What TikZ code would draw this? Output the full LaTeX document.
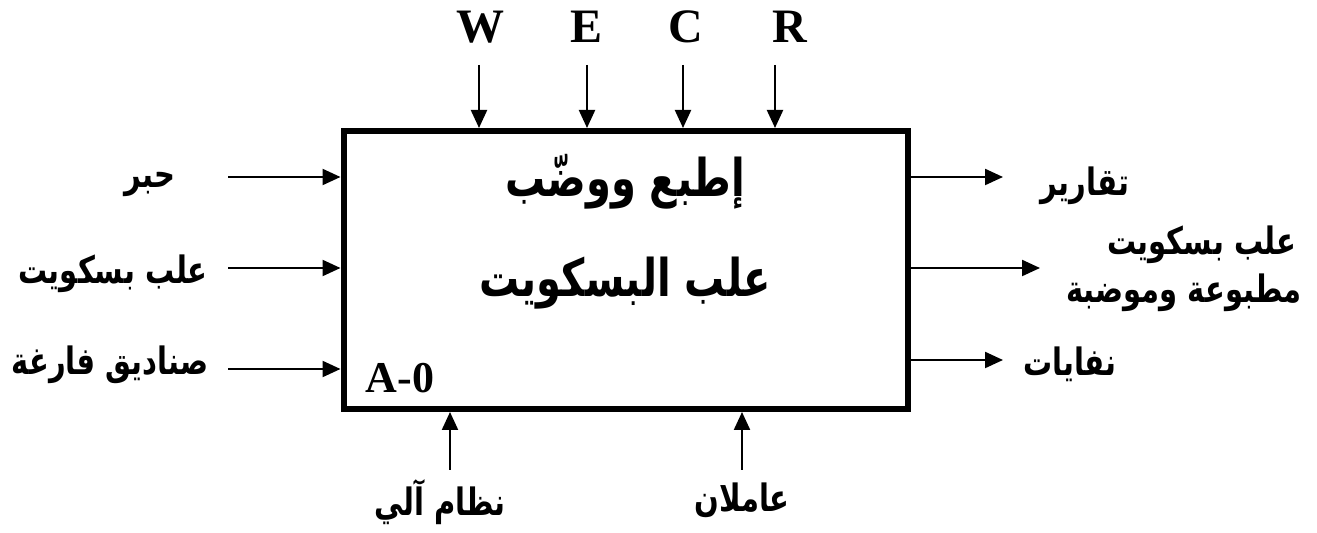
\documentclass[tikz,border=0pt]{standalone}
\usepackage{fontspec}
\setmainfont{Liberation Serif}
\newfontfamily\ar[Script=Arabic]{DejaVu Sans}
\TeXXeTstate=1
\usetikzlibrary{arrows.meta}
\newcommand{\artxt}[1]{\scalebox{1}[1.3]{\beginR #1\endR}}
\tikzset{
  arr/.style={line width=1.1pt,-{Triangle[length=9pt,width=8pt]}},
  lat/.style={font=\fontsize{24}{28}\selectfont\bfseries,inner sep=0pt},
  arl/.style={font=\ar\bfseries\fontsize{14.5}{19}\selectfont,inner sep=0pt},
  arc/.style={font=\ar\bfseries\fontsize{20}{24}\selectfont,inner sep=0pt},
  mainbox/.style={draw,line width=3pt,minimum width=282pt,minimum height=139pt,inner sep=0pt}
}
\begin{document}
\begin{tikzpicture}[x=0.5pt,y=-0.5pt]
\useasboundingbox (0,0) rectangle (1317,533);
\node[mainbox] (box) at (625.5,270) {};
% centre text
\node[arc] (t1) at (625,182) {\artxt{إطبع ووضّب}};
\node[arc] (t2) at (625,283) {\artxt{علب البسكويت}};
\node[lat,font=\fontsize{22}{26}\selectfont\bfseries] (a0) at (400,378) {A-0};
% controls
\node[lat] (W) at (480,27) {W};
\node[lat] (E) at (587,27) {E};
\node[lat] (C) at (686,27) {C};
\node[lat] (R) at (790,27) {R};
\coordinate (cW) at (479,65);
\coordinate (cE) at (587,65);
\coordinate (cC) at (683,65);
\coordinate (cR) at (775,65);
\foreach \c in {cW,cE,cC,cR} \draw[arr] (\c) -- (\c |- box.north);
% inputs
\coordinate (i1) at (228,177);
\coordinate (i2) at (228,268);
\coordinate (i3) at (228,369);
\foreach \c in {i1,i2,i3} \draw[arr] (\c) -- (\c -| box.west);
\node[arl] (l1) at (150,184) {\artxt{حبر}};
\node[arl] (l2) at (113,274) {\artxt{علب بسكويت}};
\node[arl] (l3) at (110,365) {\artxt{صناديق فارغة}};
% outputs
\coordinate (o1) at (1003,177);
\coordinate (o2) at (1040,268);
\coordinate (o3) at (1003,360);
\foreach \c in {o1,o2,o3} \draw[arr] (\c -| box.east) -- (\c);
\node[arl] (r1) at (1085,186) {\artxt{تقارير}};
\node[arl,anchor=east] (r2a) at (1297,245) {\artxt{علب بسكويت}};
\node[arl,anchor=east] (r2b) at (1302,293) {\artxt{مطبوعة وموضبة}};
\node[arl] (r3) at (1070,364) {\artxt{نفايات}};
% mechanisms
\coordinate (m1) at (450,470);
\coordinate (m2) at (742,470);
\foreach \c in {m1,m2} \draw[arr] (\c) -- (\c |- box.south);
\node[arl] (b1) at (440,502) {\artxt{نظام آلي}};
\node[arl] (b2) at (742,500) {\artxt{عاملان}};
\end{tikzpicture}
\end{document}
